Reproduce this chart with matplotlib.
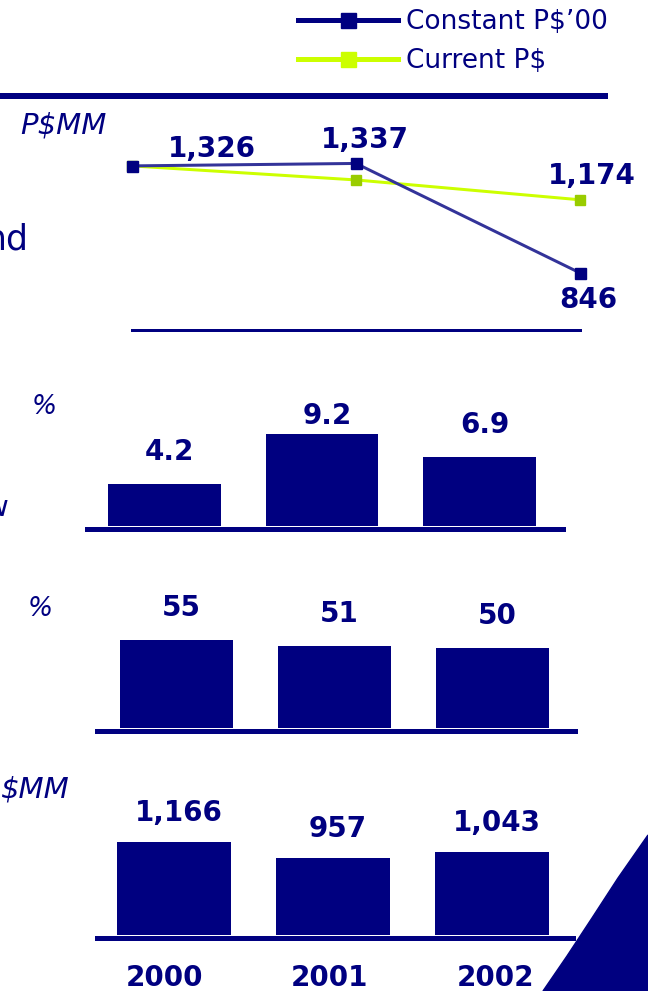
import matplotlib
matplotlib.use('Agg')
import matplotlib.pyplot as plt
from matplotlib.lines import Line2D
from matplotlib.patches import Polygon

plt.rcParams['font.family'] = ['DejaVu Sans']

W, H = 648, 991
NAVY = '#000080'

# data
years = ['2000', '2001', '2002']
constant_ps = [1326, 1337, 846]
current_ps = [1326, 1263, 1174]
growth_pct = [4.2, 9.2, 6.9]
share_pct = [55, 51, 50]
amount_mm = [1166, 957, 1043]


def rect(x0, x1, ytop, ybot):
    # pixel box -> figure fraction
    return [x0 / W, 1 - ybot / H, (x1 - x0) / W, (ybot - ytop) / H]


def px(v):
    return v * 72 / 100  # pixels -> points at dpi 100


fig = plt.figure(figsize=(W / 100, H / 100), dpi=100)

# top rule
fig.add_artist(Line2D([0, 605 / W], [1 - 96 / H] * 2, color=NAVY, lw=px(6)))

# ---- line chart ----
ax = fig.add_axes(rect(132, 580, 130, 330))
xs = range(len(years))
ax.plot(xs, constant_ps, color='#333399', lw=px(3), clip_on=False, zorder=3)
ax.plot(xs, constant_ps, 's', color=NAVY, ms=px(11), clip_on=False, zorder=4)
ax.plot(xs, current_ps, color='#CCFF00', lw=px(3), clip_on=False, zorder=2)
ax.plot(xs, current_ps, 's', color='#99CC00', ms=px(10), clip_on=False, zorder=2)
ax.set_xlim(0, 2)
ax.set_ylim(590, 1487)
for s in ['top', 'left', 'right']:
    ax.spines[s].set_visible(False)
ax.spines['bottom'].set_color(NAVY)
ax.spines['bottom'].set_linewidth(px(3))
ax.set_xticks([])
ax.set_yticks([])
ax.patch.set_visible(False)

line_labels = [(0, constant_ps[0], 80, 17), (1, constant_ps[1], 9, 23),
               (2, current_ps[2], 12, 24), (2, constant_ps[2], 8, -27)]
for i, v, dx, dy in line_labels:
    ax.annotate(f'{v:,}', (i, v), xytext=(dx, dy), textcoords='offset pixels',
                ha='center', va='center', fontsize=20, fontweight='bold',
                color=NAVY, annotation_clip=False)

handles = [Line2D([], [], color=NAVY, lw=px(5), marker='s', ms=px(15)),
           Line2D([], [], color='#CCFF00', lw=px(5), marker='s', ms=px(15))]
fig.legend(handles, ['Constant P$’00', 'Current P$'], loc='upper left',
           bbox_to_anchor=(285 / W, 1 + 4 / H), frameon=False, fontsize=19,
           handlelength=3.8, handletextpad=0.27, labelspacing=0.5, borderpad=0,
           labelcolor=NAVY)

# ---- bar charts ----
def bar_panel(box, xlim, ymax, values, fmt, dys):
    a = fig.add_axes(rect(*box))
    a.bar(range(len(values)), values, width=0.717, color=NAVY)
    a.set_xlim(*xlim)
    a.set_ylim(0, ymax)
    for s in ['top', 'left', 'right']:
        a.spines[s].set_visible(False)
    a.spines['bottom'].set_color(NAVY)
    a.spines['bottom'].set_linewidth(px(5))
    a.spines['bottom'].set_position(('outward', px(2.5)))
    a.set_yticks([])
    a.tick_params(axis='x', length=0)
    a.set_xticks([])
    a.patch.set_visible(False)
    for i, v in enumerate(values):
        a.annotate(fmt(v), (i, v), xytext=(5, dys[i]), textcoords='offset pixels',
                   ha='center', va='center', fontsize=20, fontweight='bold',
                   color=NAVY, annotation_clip=False)
    return a


bar_panel((87, 563, 380, 526), (-0.492, 2.53), 14.6, growth_pct,
          lambda v: f'{v:.1f}', [32, 18, 32])
bar_panel((97, 575, 580, 728), (-0.503, 2.522), 92.5, share_pct,
          lambda v: f'{v}', [32, 32, 32])
ax3 = bar_panel((97, 573, 790, 935), (-0.484, 2.509), 1812, amount_mm,
                lambda v: f'{v:,}', [29, 29, 29])
ax3.set_xticks([-0.06, 0.98, 2.02])
ax3.set_xticklabels(years, fontsize=20, fontweight='bold', color=NAVY)
ax3.tick_params(axis='x', pad=px(26))

# side text fragments
fig.text(20 / W, 1 - 125 / H, 'P$MM', fontsize=21, style='italic', color=NAVY,
         ha='left', va='center')
fig.text(29 / W, 1 - 240 / H, 'nd', fontsize=25, color=NAVY, ha='right', va='center')
fig.text(9 / W, 1 - 508 / H, 'w', fontsize=21, color=NAVY, ha='right', va='center')
fig.text(44 / W, 1 - 407 / H, '%', fontsize=19, style='italic', color=NAVY,
         ha='center', va='center')
fig.text(40 / W, 1 - 609 / H, '%', fontsize=19, style='italic', color=NAVY,
         ha='center', va='center')
fig.text(0, 1 - 790 / H, '$MM', fontsize=21, style='italic', color=NAVY,
         ha='left', va='center')

# corner swoosh
pts = [(648, 835), (618, 878), (592, 918), (567, 956), (543, 991), (648, 991)]
fig.add_artist(Polygon([(x / W, 1 - y / H) for x, y in pts], closed=True,
                       color=NAVY, transform=fig.transFigure))

fig.savefig('out.png', dpi=100)
